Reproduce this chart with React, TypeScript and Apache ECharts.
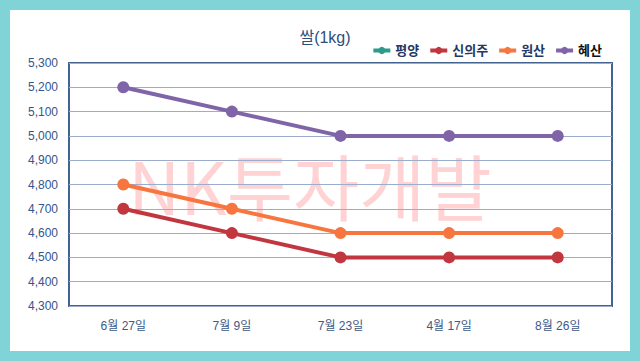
import React, { useEffect, useRef } from "react";
import * as echarts from "echarts";

const categories = ["6월 27일", "7월 9일", "7월 23일", "4월 17일", "8월 26일"];
const seriesNames = ["평양", "신의주", "원산", "혜산"];
const pyongyang: (number | null)[] = [null, null, null, null, null];
const sinuiju = [4700, 4600, 4500, 4500, 4500];
const wonsan = [4800, 4700, 4600, 4600, 4600];
const hyesan = [5200, 5100, 5000, 5000, 5000];
const seriesColors = ["#2e9b8a", "#c2373f", "#f7763f", "#8064a8"];
const legendTextColors = ["#1f3864", "#1f3864", "#1f3864", "#111111"];
const titleText = "쌀(1kg)";
const watermarkText = "NK투자개발";

const FONT = "'Liberation Sans', 'Noto Sans CJK KR', sans-serif";

export default function App() {
  const ref = useRef<HTMLDivElement>(null);
  useEffect(() => {
    if (!ref.current) return;
    const chart = echarts.init(ref.current, undefined, { renderer: "svg" });
    const dataSets = [pyongyang, sinuiju, wonsan, hyesan];
    chart.setOption({
      animation: false,
      backgroundColor: "#80d4d7",
      textStyle: { fontFamily: FONT },
      graphic: [
        {
          type: "rect",
          z: -20,
          silent: true,
          shape: { x: 10, y: 10, width: 620, height: 341 },
          style: { fill: "#ffffff" },
        },
        {
          type: "text",
          z: -10,
          silent: true,
          x: 310,
          y: 183,
          style: {
            text: watermarkText,
            fill: "#ffd3d3",
            font: "72px 'Noto Sans CJK KR', sans-serif",
            align: "center",
            verticalAlign: "middle",
          },
        },
      ],
      title: {
        text: titleText,
        left: 320,
        textAlign: "center",
        top: 24,
        textStyle: { color: "#2d4f7c", fontSize: 16, fontWeight: "normal", fontFamily: FONT },
      },
      legend: {
        right: 33,
        top: 39,
        itemWidth: 17,
        itemHeight: 9,
        itemGap: 9,
        lineStyle: { width: 4 },
        textStyle: { fontSize: 13, fontWeight: "bold", fontFamily: FONT },
        data: seriesNames.map((n, i) => ({ name: n, textStyle: { color: legendTextColors[i] } })),
      },
      grid: {
        left: 69,
        top: 63,
        right: 28,
        bottom: 55,
        show: true,
        borderColor: "#44638f",
        borderWidth: 2,
        backgroundColor: "transparent",
      },
      xAxis: {
        type: "category",
        data: categories,
        boundaryGap: true,
        axisLine: { show: false },
        axisTick: { show: false },
        axisLabel: { color: "#3e5a87", fontSize: 12, margin: 14, fontFamily: FONT },
        splitLine: { show: false },
      },
      yAxis: {
        type: "value",
        min: 4300,
        max: 5300,
        interval: 100,
        axisLine: { show: false },
        axisTick: { show: false },
        axisLabel: {
          color: "#34568b",
          fontSize: 12,
          margin: 11,
          fontFamily: FONT,
          formatter: (v: number) => v.toLocaleString("en-US"),
        },
        splitLine: { show: true, lineStyle: { color: "#9badca", width: 1 } },
      },
      series: seriesNames.map((n, i) => ({
        name: n,
        type: "line",
        data: dataSets[i],
        color: seriesColors[i],
        symbol: "circle",
        symbolSize: 12,
        lineStyle: { width: 4, color: seriesColors[i] },
        itemStyle: { color: seriesColors[i] },
      })),
    });
    return () => chart.dispose();
  }, []);
  return (
    <div
      ref={ref}
      style={{ position: "fixed", left: 0, top: 0, width: 640, height: 361 }}
    />
  );
}
